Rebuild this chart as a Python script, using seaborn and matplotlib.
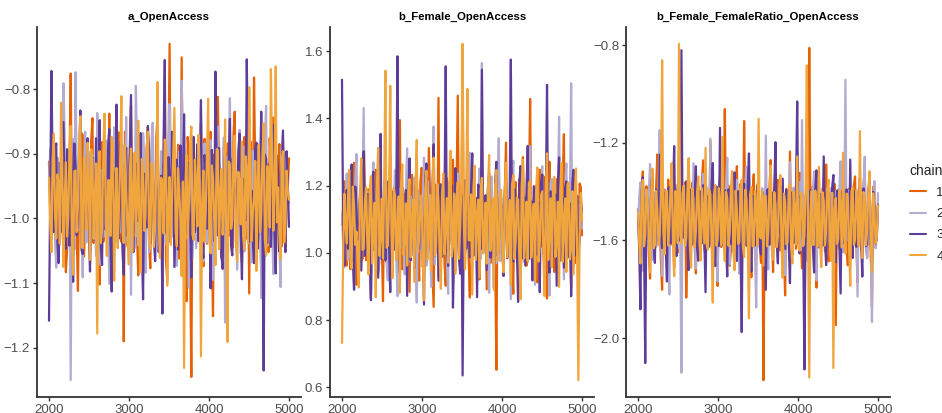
import numpy as np
import pandas as pd
import matplotlib
matplotlib.use("Agg")
import matplotlib.pyplot as plt
from matplotlib.ticker import FuncFormatter
import seaborn as sns

# ---------------- data ----------------
panels = ["a_OpenAccess", "b_Female_OpenAccess", "b_Female_FemaleRatio_OpenAccess"]
chains = ["1", "2", "3", "4"]
chain_colors = ["#E66101", "#B2ABD2", "#5E3C99", "#F1A53D"]
iter_start, iter_end = 2000, 5000

# draws of each chain (even draws / draws in between)
a_c1 = [-0.912,-1.021,-0.885,-1.064,-0.947,-0.998,-0.862,-1.083,-0.931,-0.776,-1.041,-0.903,-1.112,-0.958,-0.871,-1.009,-0.924,-1.071,-0.845,-0.989,
        -0.936,-1.102,-0.882,-1.015,-0.951,-0.838,-1.057,-0.919,-0.994,-0.867,-1.036,-1.19,-0.908,-0.973,-0.826,-1.048,-0.941,-1.088,-0.893,-0.962,
        -1.024,-0.859,-1.077,-0.917,-0.985,-0.847,-1.053,-0.932,-0.872,-1.096,-0.73,-1.018,-0.899,-0.966,-1.062,-0.751,-0.991,-1.128,-0.911,-1.245,
        -0.876,-1.039,-0.944,-0.853,-1.074,-0.928,-1.003,-0.866,-1.151,-0.939,-0.812,-1.027,-0.957,-1.093,-0.884,-0.978,-1.045,-0.835,-1.011,-0.926,
        -1.067,-0.874,-0.997,-1.116,-0.903,-0.782,-1.032,-0.949,-1.081,-0.861,-0.983,-1.052,-0.918,-0.844,-1.071,-0.935,-1.005,-0.889,-1.044,-0.954]
a_c1_mid = [-0.995,-0.902,-1.018,-0.921,-1.034,-0.889,-0.987,-1.046,-0.913,-1.002,-0.884,-1.027,-0.941,-0.868,-1.059,-0.932,-0.997,-0.879,-1.038,-0.914,
            -1.011,-0.943,-1.036,-0.897,-0.979,-1.052,-0.908,-1.022,-0.873,-1.014,-0.929,-0.866,-1.043,-0.905,-1.006,-0.917,-1.029,-0.883,-1.057,-0.938,
            -0.892,-1.041,-0.926,-1.009,-0.871,-1.035,-0.912,-0.989,-1.064,-0.907,-1.025,-0.934,-1.047,-0.886,-0.998,-1.031,-0.919,-0.874,-1.053,-0.943,
            -0.991,-0.896,-1.022,-0.958,-0.877,-1.039,-0.913,-1.044,-0.901,-1.018,-0.932,-1.061,-0.889,-0.984,-1.027,-0.908,-0.869,-1.036,-0.921,-1.007,
            -0.947,-1.032,-0.902,-0.881,-1.049,-0.927,-0.994,-1.012,-0.893,-1.058,-0.916,-0.876,-1.023,-0.939,-1.004,-0.885,-1.043,-0.929,-0.981,-0.907]
a_c2 = [-0.951,-1.032,-0.874,-1.076,-0.918,-0.989,-0.791,-1.047,-0.936,-1.25,-0.877,-0.774,-1.018,-0.943,-1.091,-0.866,-0.997,-1.054,-0.902,-0.962,
        -0.837,-1.071,-0.925,-1.013,-0.881,-1.101,-0.948,-0.859,-1.036,-0.974,-0.906,-1.062,-0.843,-0.992,-1.118,-0.914,-0.795,-1.041,-0.957,-0.868,
        -1.084,-0.931,-1.005,-0.852,-1.059,-0.921,-0.978,-1.136,-0.889,-0.967,-0.823,-1.028,-0.943,-1.073,-0.896,-0.787,-1.013,-0.934,-1.107,-0.871,
        -0.985,-1.046,-0.912,-0.831,-1.066,-0.952,-1.002,-0.879,-1.095,-0.927,-0.858,-1.037,-0.969,-1.161,-0.905,-0.814,-1.021,-0.946,-1.079,-0.863,
        -0.993,-1.051,-0.917,-0.842,-1.068,-0.938,-1.011,-0.886,-1.123,-0.947,-0.826,-1.034,-0.961,-1.086,-0.894,-0.979,-1.106,-0.871,-1.024,-0.956]
a_c2_mid = [-0.893,-0.987,-1.024,-0.906,-1.041,-0.931,-0.874,-1.012,-0.953,-0.918,-1.048,-0.938,-0.885,-1.005,-0.924,-1.037,-0.897,-1.016,-0.946,-1.058,
            -0.911,-0.982,-1.029,-0.879,-0.996,-0.933,-1.043,-0.902,-0.968,-1.021,-0.887,-0.999,-1.034,-0.915,-0.957,-1.046,-0.892,-0.976,-1.019,-0.904,
            -0.949,-1.052,-0.881,-1.008,-0.937,-1.027,-0.896,-0.972,-1.039,-0.913,-0.988,-0.901,-1.045,-0.926,-1.003,-0.869,-1.032,-0.952,-0.917,-1.061,
            -0.908,-0.979,-1.023,-0.941,-0.884,-1.037,-0.912,-0.995,-1.018,-0.898,-1.047,-0.934,-0.875,-1.011,-0.958,-1.029,-0.903,-0.986,-0.922,-1.054,
            -0.889,-1.007,-0.946,-1.033,-0.895,-0.974,-1.026,-0.916,-0.999,-0.882,-1.042,-0.928,-1.013,-0.907,-0.963,-1.036,-0.891,-1.019,-0.944,-0.977]
a_c3 = [-1.158,-0.772,-1.021,-0.884,-1.069,-0.932,-0.851,-1.047,-0.963,-0.869,-1.098,-0.919,-0.998,-0.833,-1.055,-0.941,-0.876,-1.082,-0.905,-0.987,
        -1.041,-0.848,-1.072,-0.927,-0.991,-0.862,-1.113,-0.936,-0.824,-1.031,-0.958,-1.087,-0.891,-0.976,-0.809,-1.052,-0.915,-1.004,-0.868,-1.125,
        -0.944,-0.857,-1.039,-0.928,-1.066,-0.881,-0.996,-1.147,-0.755,-1.018,-0.937,-0.866,-1.075,-0.909,-0.982,-1.049,-0.839,-1.014,-0.951,-1.091,
        -0.874,-0.968,-1.035,-0.817,-1.061,-0.933,-0.887,-1.108,-0.946,-0.773,-1.026,-0.961,-1.078,-0.898,-0.985,-0.846,-1.057,-0.922,-1.012,-0.869,
        -1.094,-0.942,-0.754,-1.036,-0.957,-1.069,-0.883,-0.993,-0.835,-1.235,-0.908,-0.977,-1.044,-0.856,-1.085,-0.929,-0.994,-0.864,-1.052,-0.947]
a_c3_mid = [-0.963,-0.921,-0.899,-1.036,-0.914,-1.021,-0.997,-0.893,-1.042,-0.928,-0.884,-1.026,-0.907,-1.049,-0.939,-1.008,-0.972,-0.912,-1.033,-0.876,
            -0.951,-1.044,-0.903,-1.017,-0.889,-1.038,-0.924,-1.011,-0.947,-0.882,-1.053,-0.916,-1.027,-0.895,-1.039,-0.943,-0.987,-0.908,-1.046,-0.931,
            -1.014,-0.898,-0.968,-1.031,-0.917,-1.052,-0.934,-0.879,-1.022,-0.905,-1.037,-0.926,-0.992,-1.048,-0.887,-0.957,-1.029,-0.913,-1.006,-0.938,
            -1.021,-0.885,-0.948,-1.041,-0.902,-1.016,-0.971,-0.894,-1.035,-0.919,-0.891,-1.058,-0.933,-1.012,-0.907,-1.043,-0.925,-0.982,-0.896,-1.027,
            -0.939,-1.003,-0.911,-0.978,-1.034,-0.892,-1.047,-0.927,-1.019,-0.901,-1.038,-0.914,-0.969,-1.025,-0.903,-1.051,-0.929,-1.008,-0.896,-1.013]
a_c4 = [-0.937,-1.052,-0.869,-1.031,-0.948,-0.821,-1.075,-0.913,-0.996,-0.857,-1.087,-0.926,-0.978,-0.842,-1.046,-0.951,-0.883,-1.064,-0.909,-0.968,
        -1.178,-0.896,-1.017,-0.838,-1.058,-0.941,-0.874,-1.096,-0.922,-0.983,-0.811,-1.038,-0.955,-1.071,-0.892,-0.962,-1.028,-0.849,-1.083,-0.931,
        -0.997,-0.866,-1.047,-0.918,-1.012,-0.789,-1.061,-0.944,-0.878,-1.104,-0.936,-0.971,-0.829,-1.043,-0.958,-1.089,-1.231,-0.902,-0.975,-0.858,
        -1.033,-0.949,-0.871,-1.213,-0.926,-0.986,-0.815,-1.054,-0.938,-1.072,-0.894,-0.963,-1.025,-0.847,-1.191,-0.917,-1.001,-0.872,-1.066,-0.943,
        -0.881,-1.048,-0.929,-0.797,-1.035,-0.966,-1.081,-0.886,-0.992,-0.853,-1.057,-0.934,-0.769,-1.019,-0.765,-0.952,-1.063,-0.896,-1.009,-0.958]
a_c4_mid = [-1.008,-0.911,-0.995,-0.932,-1.039,-0.917,-0.971,-1.028,-0.894,-1.036,-0.927,-1.021,-0.888,-1.043,-0.906,-1.017,-0.951,-0.893,-1.032,-0.915,
            -0.919,-1.038,-0.902,-0.989,-0.941,-1.027,-0.884,-0.998,-1.046,-0.913,-1.024,-0.887,-1.011,-0.929,-1.052,-0.898,-0.974,-1.035,-0.908,-1.019,
            -0.892,-1.033,-0.914,-1.044,-0.925,-1.008,-0.937,-1.023,-0.899,-0.982,-1.041,-0.896,-1.017,-0.922,-1.006,-0.943,-0.956,-1.031,-0.887,-1.025,
            -0.909,-1.012,-0.938,-0.977,-1.036,-0.901,-1.029,-0.918,-1.002,-0.893,-1.047,-0.924,-0.986,-1.034,-0.912,-1.016,-0.897,-1.041,-0.928,-1.009,
            -1.027,-0.904,-1.038,-0.933,-0.991,-0.911,-0.943,-1.021,-0.902,-1.032,-0.919,-1.014,-0.907,-0.948,-1.006,-1.022,-0.912,-1.037,-0.926,-0.971]

b_c1 = [1.084,1.213,0.962,1.157,1.031,1.268,0.905,1.122,1.046,1.331,0.978,1.189,0.873,1.105,1.247,0.994,1.142,0.856,1.206,1.061,
        1.289,0.933,1.118,1.012,1.395,0.951,1.176,1.073,0.884,1.232,1.037,1.165,0.917,1.253,1.088,0.969,1.312,1.041,0.839,1.146,
        1.461,0.987,1.197,0.902,1.128,1.054,1.277,0.946,1.468,1.091,1.514,0.968,1.182,0.867,1.239,1.025,1.113,0.921,1.302,1.067,
        0.891,1.223,1.003,1.154,0.652,1.264,1.079,0.955,1.328,1.036,1.173,0.878,1.211,1.049,0.931,1.285,1.096,0.982,1.458,1.057,
        1.192,0.912,1.247,1.018,1.139,0.864,1.271,1.062,0.943,1.219,1.081,0.997,1.353,1.028,1.161,0.897,1.235,1.071,0.958,1.196]
b_c1_mid = [1.142,0.987,1.073,0.951,1.198,0.964,1.021,1.176,0.982,1.207,1.049,0.946,1.183,1.012,0.968,1.161,1.031,1.214,0.972,1.138,
            0.987,1.192,1.045,1.226,0.963,1.119,0.978,1.205,1.157,0.996,1.184,1.023,1.211,0.958,1.129,1.032,1.171,0.944,1.203,1.016,
            0.992,1.141,0.967,1.221,1.034,1.174,0.958,1.197,1.052,1.148,1.008,1.216,0.985,1.169,1.027,1.147,0.974,1.208,1.021,1.163,
            1.178,0.969,1.136,0.993,1.201,1.048,0.981,1.189,1.012,1.143,0.986,1.179,1.035,1.218,1.003,1.127,0.962,1.195,1.038,1.152,
            0.997,1.164,1.021,1.228,0.973,1.136,1.018,1.187,0.989,1.151,1.006,1.213,0.976,1.142,1.019,1.175,0.969,1.138,1.206,1.052]
b_c2 = [1.112,0.957,1.236,1.041,1.178,0.889,1.294,1.063,0.972,1.431,1.008,1.151,0.864,1.269,1.097,0.941,1.205,1.032,1.353,0.918,
        1.137,1.022,1.246,0.871,1.168,1.059,0.936,1.311,1.084,0.993,1.224,0.852,1.147,1.044,1.283,0.962,1.109,0.899,1.376,1.051,
        0.927,1.198,1.013,1.262,0.878,1.133,1.071,0.951,1.236,1.024,0.842,1.187,1.066,1.298,0.956,1.119,0.913,1.251,1.565,1.003,
        1.172,0.881,1.227,1.048,0.969,1.341,1.087,0.934,1.208,1.017,0.862,1.274,1.055,1.161,0.924,1.242,1.038,0.976,1.317,1.079,
        0.905,1.193,1.026,1.258,0.947,1.141,0.873,1.219,1.064,0.985,1.405,1.043,0.921,1.266,1.034,1.505,0.958,1.182,1.009,1.127]
b_c2_mid = [1.021,1.168,0.979,1.152,0.996,1.211,1.028,1.163,1.207,0.992,1.183,0.986,1.172,1.026,1.193,0.971,1.138,1.011,0.968,1.184,
            1.036,1.157,0.982,1.192,1.017,1.149,1.194,0.973,1.168,1.042,0.979,1.186,1.008,1.153,0.989,1.213,1.027,1.174,0.966,1.145,
            1.162,0.998,1.187,0.974,1.209,1.024,1.158,1.182,0.991,1.163,1.201,1.006,1.149,0.983,1.196,1.037,1.175,0.982,1.106,1.154,
            0.998,1.201,1.034,1.169,1.187,0.976,1.143,1.197,1.016,1.162,1.208,0.991,1.152,1.028,1.186,0.973,1.174,1.012,0.981,1.158,
            1.199,1.024,1.163,0.993,1.179,1.031,1.206,0.987,1.147,1.176,0.982,1.158,1.194,1.011,1.167,0.974,1.189,1.026,1.143,1.072]
b_c3 = [1.515,0.962,1.187,1.034,1.263,0.891,1.128,1.052,0.947,1.302,1.017,1.176,0.859,1.241,1.089,0.926,1.354,1.045,0.978,1.212,
        0.883,1.136,1.062,1.585,0.941,1.194,1.027,0.872,1.281,1.069,0.953,1.227,1.011,1.158,0.846,1.266,1.042,0.995,1.323,1.083,
        0.917,1.204,1.036,1.555,0.961,1.148,0.837,1.252,1.077,0.938,0.635,1.215,1.054,0.987,1.296,1.021,0.868,1.179,1.545,1.038,
        0.949,1.237,1.095,0.896,1.271,1.013,1.164,0.931,1.209,1.058,1.575,0.974,1.142,0.854,1.258,1.031,0.962,1.318,1.075,0.918,
        1.196,1.047,0.883,1.233,1.006,1.5,0.941,1.171,1.068,0.902,1.284,1.026,0.956,1.212,1.083,0.871,1.247,1.039,0.993,1.154]
b_c3_mid = [1.046,1.159,1.012,1.178,0.984,1.197,1.039,1.163,1.196,0.991,1.174,0.988,1.214,1.007,1.158,1.192,0.981,1.163,1.201,1.026,
            1.184,1.009,1.179,0.993,1.156,1.021,1.187,1.169,0.978,1.147,1.193,1.018,1.152,0.996,1.213,0.987,1.162,1.178,0.992,1.146,
            1.179,0.988,1.167,1.017,1.136,1.201,1.009,1.152,0.981,1.176,1.106,1.012,1.168,1.192,0.991,1.164,1.203,1.011,1.023,1.171,
            1.197,0.986,1.157,1.213,0.992,1.168,1.031,1.174,0.984,1.157,1.023,1.189,1.011,1.207,0.983,1.165,1.193,0.982,1.153,1.198,
            0.994,1.151,1.208,0.997,1.162,1.019,1.183,0.988,1.173,1.207,0.977,1.162,1.194,0.986,1.147,1.211,0.992,1.169,1.036,1.122]
b_c4 = [0.732,1.176,1.028,1.247,0.954,1.139,1.063,0.897,1.281,1.012,1.195,0.936,1.228,1.074,0.868,1.312,1.045,0.983,1.542,1.021,
        1.497,0.925,1.168,1.057,0.881,1.263,1.036,0.962,1.219,1.089,0.914,1.336,1.048,1.171,0.859,1.244,1.066,0.947,1.283,1.019,
        1.152,0.893,1.236,1.075,0.971,1.304,1.027,0.938,1.211,1.083,1.622,0.951,1.488,1.037,0.876,1.259,1.104,0.927,1.223,1.043,
        0.968,1.291,1.058,0.889,1.246,1.011,1.187,0.942,1.268,1.071,0.905,1.231,1.034,1.158,0.862,1.277,1.049,0.975,1.215,1.092,
        0.918,1.254,1.026,1.183,0.871,1.296,1.061,0.957,1.226,1.038,0.899,1.267,1.084,0.943,1.209,1.015,0.936,1.251,0.621,1.178]
b_c4_mid = [1.012,1.082,1.163,0.986,1.197,1.024,0.971,1.186,1.009,1.152,1.032,1.183,0.968,1.149,1.206,0.991,1.161,1.209,1.015,1.176,
            1.062,1.191,0.979,1.168,1.204,0.994,1.147,1.182,0.987,1.158,1.198,1.002,1.151,0.976,1.193,0.981,1.172,1.163,0.992,1.204,
            0.984,1.172,0.996,1.163,1.201,0.989,1.176,1.157,0.982,1.206,1.093,1.197,1.038,1.174,1.191,0.979,1.158,1.187,0.998,1.149,
            1.183,1.006,1.163,1.199,0.977,1.169,0.992,1.182,0.987,1.157,1.203,0.981,1.164,0.991,1.196,0.983,1.152,1.207,0.986,1.146,
            1.189,0.974,1.171,0.985,1.193,0.979,1.162,1.201,0.988,1.152,1.187,0.973,1.162,1.204,0.981,1.183,1.172,0.987,1.046,1.097]

c_c1 = [-1.472,-1.683,-1.318,-1.594,-1.407,-1.756,-1.351,-1.621,-1.248,-1.539,-1.802,-1.392,-1.667,-1.436,-1.285,-1.712,-1.503,-1.367,-1.629,-1.431,
        -1.834,-1.302,-1.568,-1.446,-1.735,-1.378,-1.597,-1.272,-1.661,-1.489,-1.191,-1.587,-1.419,-1.786,-1.341,-1.621,-1.062,-1.528,-1.704,-1.395,
        -1.589,-1.296,-1.673,-1.457,-1.111,-1.614,-1.406,-1.751,-1.329,-1.562,-1.443,-1.692,-2.172,-1.384,-1.608,-1.271,-1.729,-1.465,-1.352,-1.641,
        -1.502,-1.825,-1.412,-1.236,-1.657,-1.478,-1.593,-1.323,-1.714,-1.441,-1.378,-0.812,-1.582,-1.462,-1.793,-1.347,-1.627,-1.518,-1.289,-1.686,
        -1.417,-1.563,-1.947,-1.392,-1.638,-1.483,-1.267,-1.702,-1.455,-1.593,-1.338,-1.771,-1.429,-1.576,-1.314,-1.668,-1.491,-1.873,-1.375,-1.545]
c_c1_mid = [-1.574,-1.412,-1.523,-1.378,-1.652,-1.436,-1.571,-1.388,-1.609,-1.682,-1.418,-1.594,-1.351,-1.618,-1.551,-1.396,-1.648,-1.428,-1.567,-1.362,
            -1.581,-1.453,-1.364,-1.623,-1.412,-1.547,-1.359,-1.634,-1.417,-1.601,-1.388,-1.664,-1.548,-1.393,-1.627,-1.437,-1.552,-1.376,-1.641,-1.598,
            -1.423,-1.591,-1.368,-1.632,-1.487,-1.385,-1.659,-1.406,-1.612,-1.374,-1.619,-1.417,-1.593,-1.638,-1.392,-1.568,-1.411,-1.629,-1.571,-1.383,
            -1.652,-1.389,-1.605,-1.556,-1.406,-1.634,-1.372,-1.587,-1.421,-1.598,-1.641,-1.498,-1.379,-1.613,-1.428,-1.569,-1.387,-1.645,-1.584,-1.407,
            -1.596,-1.369,-1.428,-1.631,-1.413,-1.586,-1.623,-1.388,-1.607,-1.376,-1.616,-1.402,-1.638,-1.371,-1.592,-1.419,-1.654,-1.381,-1.603,-1.461]
c_c2 = [-1.541,-1.362,-1.724,-1.423,-1.618,-1.287,-1.679,-1.455,-1.568,-1.148,-1.745,-1.398,-1.531,-1.821,-1.346,-1.607,-1.462,-1.239,-2.141,-1.514,
        -1.372,-1.652,-1.443,-1.284,-1.715,-1.496,-1.597,-1.327,-1.679,-1.421,-1.183,-1.583,-1.451,-1.768,-1.364,-1.623,-1.506,-1.262,-1.698,-1.437,
        -1.572,-1.352,-1.736,-1.478,-1.614,-1.298,-1.663,-1.412,-1.542,-1.874,-1.393,-1.626,-1.473,-1.171,-1.719,-1.448,-1.583,-1.308,-1.669,-1.525,
        -1.401,-1.742,-1.456,-1.279,-1.631,-1.487,-1.592,-1.361,-1.107,-1.538,-1.683,-1.424,-1.573,-1.318,-1.764,-1.466,-1.586,-1.341,-1.657,-1.503,
        -1.386,-1.709,-1.442,-1.593,-1.276,-1.648,-0.942,-1.519,-1.689,-1.406,-1.561,-1.829,-1.376,-1.612,-1.257,-1.673,-1.462,-1.934,-1.357,-1.591]
c_c2_mid = [-1.428,-1.615,-1.386,-1.621,-1.401,-1.589,-1.403,-1.627,-1.395,-1.574,-1.438,-1.612,-1.637,-1.398,-1.563,-1.371,-1.631,-1.584,-1.405,-1.381,
            -1.637,-1.422,-1.592,-1.611,-1.389,-1.623,-1.414,-1.589,-1.382,-1.617,-1.571,-1.405,-1.643,-1.397,-1.588,-1.429,-1.376,-1.606,-1.412,-1.646,
            -1.419,-1.597,-1.389,-1.622,-1.374,-1.594,-1.418,-1.627,-1.651,-1.421,-1.607,-1.386,-1.611,-1.583,-1.402,-1.636,-1.391,-1.612,-1.417,-1.389,
            -1.619,-1.413,-1.597,-1.624,-1.384,-1.608,-1.372,-1.639,-1.561,-1.412,-1.391,-1.617,-1.404,-1.629,-1.386,-1.593,-1.414,-1.618,-1.387,-1.604,
            -1.623,-1.397,-1.608,-1.385,-1.627,-1.512,-1.602,-1.393,-1.413,-1.618,-1.399,-1.407,-1.626,-1.384,-1.637,-1.392,-1.615,-1.421,-1.632,-1.406]
c_c3 = [-1.503,-1.882,-1.341,-2.102,-1.436,-1.598,-1.317,-1.692,-1.468,-1.249,-1.631,-1.412,-1.768,-1.382,-1.557,-1.214,-1.664,-1.493,-0.821,-1.589,
        -1.358,-1.721,-1.447,-1.603,-1.296,-1.683,-1.529,-1.374,-1.812,-1.426,-1.562,-1.283,-1.705,-1.472,-1.139,-1.618,-1.394,-1.747,-1.451,-1.586,
        -1.321,-1.684,-1.507,-1.975,-1.368,-1.622,-1.244,-1.727,-1.463,-1.574,-1.336,-1.658,-1.431,-1.802,-1.389,-1.611,-1.468,-1.198,-1.694,-1.521,
        -1.347,-1.635,-1.423,-1.775,-1.403,-1.582,-1.031,-1.653,-1.476,-2.128,-1.362,-1.598,-1.446,-1.731,-1.313,-1.628,-1.497,-1.256,-1.701,-1.458,
        -1.572,-1.332,-1.689,-1.435,-1.817,-1.391,-1.607,-1.483,-1.269,-1.672,-1.429,-1.586,-1.342,-1.748,-1.472,-1.615,-1.357,-1.693,-1.464,-1.588]
c_c3_mid = [-1.635,-1.402,-1.611,-1.421,-1.597,-1.384,-1.621,-1.392,-1.603,-1.574,-1.401,-1.628,-1.387,-1.612,-1.408,-1.622,-1.386,-1.601,-1.563,-1.409,
            -1.625,-1.392,-1.617,-1.406,-1.631,-1.397,-1.612,-1.594,-1.418,-1.626,-1.381,-1.609,-1.379,-1.623,-1.581,-1.404,-1.622,-1.391,-1.614,-1.409,
            -1.617,-1.398,-1.628,-1.412,-1.603,-1.386,-1.592,-1.417,-1.621,-1.389,-1.627,-1.401,-1.615,-1.394,-1.618,-1.403,-1.386,-1.596,-1.412,-1.622,
            -1.597,-1.392,-1.618,-1.406,-1.611,-1.381,-1.579,-1.416,-1.624,-1.513,-1.606,-1.394,-1.627,-1.389,-1.614,-1.409,-1.621,-1.597,-1.411,-1.628,
            -1.382,-1.615,-1.397,-1.624,-1.406,-1.612,-1.391,-1.619,-1.603,-1.398,-1.626,-1.402,-1.611,-1.387,-1.624,-1.392,-1.618,-1.401,-1.613,-1.453]
c_c4 = [-1.486,-1.694,-1.352,-1.578,-1.427,-1.731,-1.306,-1.618,-1.469,-1.583,-0.862,-1.657,-1.398,-1.542,-1.287,-1.746,-1.451,-0.795,-1.612,-1.374,
        -1.589,-1.263,-1.711,-1.434,-1.563,-1.338,-1.682,-1.496,-1.221,-1.637,-1.412,-1.854,-1.373,-1.598,-1.456,-1.176,-1.685,-1.429,-1.571,-1.316,
        -1.722,-1.483,-1.607,-1.352,-1.668,-1.437,-1.918,-1.381,-1.625,-1.474,-1.102,-1.591,-1.703,-1.418,-1.566,-1.293,-1.679,-1.451,-1.584,-1.332,
        -1.753,-1.442,-1.608,-1.371,-1.694,-1.487,-1.256,-1.642,-1.413,-1.579,-0.883,-2.161,-1.397,-1.618,-1.465,-1.299,-1.709,-1.438,-1.566,-1.351,
        -1.684,-2.122,-1.426,-1.593,-1.468,-1.241,-1.653,-1.419,-1.786,-1.382,-1.597,-1.453,-1.152,-1.672,-1.428,-1.563,-1.317,-1.728,-1.479,-1.586]
c_c4_mid = [-1.611,-1.409,-1.624,-1.392,-1.607,-1.401,-1.632,-1.397,-1.618,-1.412,-1.563,-1.402,-1.621,-1.387,-1.616,-1.398,-1.612,-1.574,-1.407,-1.623,
            -1.394,-1.619,-1.388,-1.627,-1.403,-1.613,-1.386,-1.612,-1.621,-1.392,-1.602,-1.417,-1.621,-1.386,-1.618,-1.582,-1.401,-1.622,-1.394,-1.628,
            -1.396,-1.614,-1.389,-1.626,-1.392,-1.617,-1.412,-1.623,-1.397,-1.618,-1.583,-1.398,-1.418,-1.624,-1.387,-1.619,-1.402,-1.627,-1.391,-1.622,
            -1.408,-1.615,-1.386,-1.629,-1.399,-1.616,-1.588,-1.404,-1.623,-1.393,-1.561,-1.482,-1.618,-1.396,-1.625,-1.609,-1.403,-1.621,-1.392,-1.617,
            -1.405,-1.472,-1.614,-1.397,-1.629,-1.586,-1.408,-1.622,-1.401,-1.617,-1.395,-1.623,-1.578,-1.402,-1.619,-1.393,-1.621,-1.407,-1.612,-1.456]

series = {
    panels[0]: [(a_c1, a_c1_mid), (a_c2, a_c2_mid), (a_c3, a_c3_mid), (a_c4, a_c4_mid)],
    panels[1]: [(b_c1, b_c1_mid), (b_c2, b_c2_mid), (b_c3, b_c3_mid), (b_c4, b_c4_mid)],
    panels[2]: [(c_c1, c_c1_mid), (c_c2, c_c2_mid), (c_c3, c_c3_mid), (c_c4, c_c4_mid)],
}
x_ticks = [2000, 3000, 4000, 5000]
y_ticks = {
    panels[0]: [-1.2, -1.1, -1.0, -0.9, -0.8],
    panels[1]: [0.6, 0.8, 1.0, 1.2, 1.4, 1.6],
    panels[2]: [-2.0, -1.6, -1.2, -0.8],
}

rows = []
for p in panels:
    for ch, (main, mid) in zip(chains, series[p]):
        vals = np.ravel(np.column_stack([main, mid]))
        it = np.linspace(iter_start, iter_end, len(vals))
        for xv, yv in zip(it, vals):
            rows.append((p, ch, xv, yv))
df = pd.DataFrame(rows, columns=["parameter", "chain", "iteration", "value"])

# ---------------- plot ----------------
sns.set_theme(style="ticks")
plt.rcParams["font.family"] = ["Liberation Sans", "DejaVu Sans"]

fig = plt.figure(figsize=(9.42, 4.13), dpi=100)
lefts = [37, 330, 626]
width = 264
bottom_px, top_px = 397, 27
axes = []
for i, p in enumerate(panels):
    ax = fig.add_axes([lefts[i] / 942, 1 - bottom_px / 413, width / 942, (bottom_px - top_px) / 413])
    sub = df[df["parameter"] == p]
    sns.lineplot(data=sub, x="iteration", y="value", hue="chain", hue_order=chains,
                 palette=chain_colors, estimator=None, sort=False, linewidth=1.6,
                 ax=ax, legend=(i == 2))
    lo = sub["value"].min(); hi = sub["value"].max()
    pad = (hi - lo) * 0.05
    ax.set_ylim(lo - pad, hi + pad)
    ax.set_xlim(iter_start - 150, iter_end + 150)
    ax.set_xticks(x_ticks)
    ax.set_yticks(y_ticks[p])
    ax.yaxis.set_major_formatter(FuncFormatter(lambda v, pos: f"{v:.1f}".replace("-", "\u2212")))
    ax.set_xlabel(""); ax.set_ylabel("")
    ax.set_title(p, fontsize=8.2, fontweight="bold", color="black", pad=5)
    for s in ["top", "right"]:
        ax.spines[s].set_visible(False)
    for s in ["left", "bottom"]:
        ax.spines[s].set_color("#333333")
        ax.spines[s].set_linewidth(1.3)
    ax.tick_params(axis="both", colors="#333333", labelcolor="#4d4d4d", labelsize=9.5,
                   length=3, width=1.0, pad=2)
    ax.set_facecolor("white")
    axes.append(ax)

leg = axes[2].get_legend()
handles = leg.legend_handles
leg.remove()
for h in handles:
    h.set_linewidth(1.5)
fl = fig.legend(handles, chains, title="chain", loc="upper left",
                bbox_to_anchor=(898 / 942, 1 - 152 / 413), frameon=False,
                handlelength=1.2, labelspacing=0.68, fontsize=9.5, title_fontsize=10,
                handletextpad=0.8)
fl._legend_box.align = "left"

fig.savefig("out.png", dpi=100)
